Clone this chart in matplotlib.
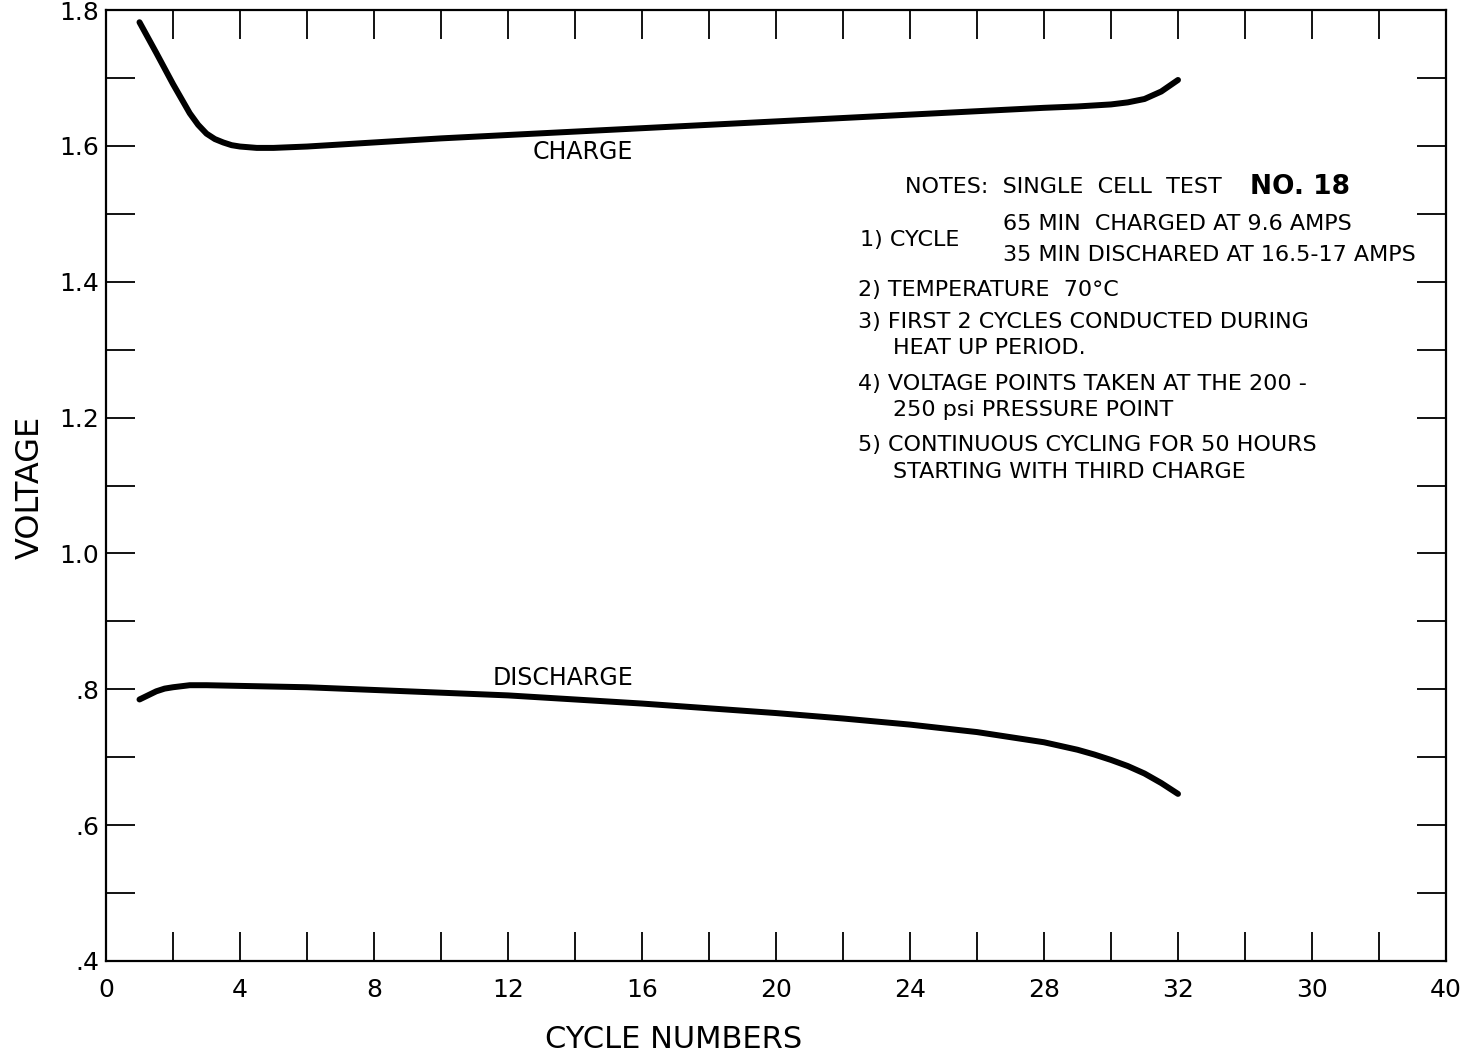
import matplotlib
matplotlib.use("Agg")
import matplotlib.pyplot as plt
import numpy as np

# ---- data ----
charge_cycles = [1, 1.5, 2, 2.5, 2.75, 3, 3.25, 3.5, 3.75, 4, 4.5, 5, 6, 8, 10, 12,
                 14, 16, 18, 20, 22, 24, 26, 28, 29, 30, 30.5, 31, 31.5, 32]
charge_volts = [1.782, 1.737, 1.691, 1.648, 1.631, 1.618, 1.610, 1.605, 1.601, 1.599,
                1.597, 1.597, 1.599, 1.605, 1.611, 1.616, 1.621, 1.626, 1.631, 1.636,
                1.641, 1.646, 1.651, 1.656, 1.658, 1.661, 1.664, 1.669, 1.680, 1.697]

discharge_cycles = [1, 1.25, 1.5, 1.75, 2, 2.5, 3, 4, 6, 8, 10, 12, 14, 16, 18, 20,
                    22, 24, 26, 28, 29, 29.5, 30, 30.5, 31, 31.5, 32]
discharge_volts = [0.785, 0.791, 0.797, 0.801, 0.803, 0.806, 0.806, 0.805, 0.803,
                   0.799, 0.795, 0.791, 0.785, 0.779, 0.772, 0.765, 0.757, 0.748,
                   0.737, 0.722, 0.711, 0.704, 0.696, 0.687, 0.676, 0.662, 0.646]

x_tick_pos = [0, 4, 8, 12, 16, 20, 24, 28, 32, 36, 40]
x_tick_labels = ["0", "4", "8", "12", "16", "20", "24", "28", "32", "30", "40"]
y_tick_pos = [0.4, 0.6, 0.8, 1.0, 1.2, 1.4, 1.6, 1.8]
y_tick_labels = [".4", ".6", ".8", "1.0", "1.2", "1.4", "1.6", "1.8"]

notes = [
    ("1) CYCLE", 22.5, 1.461),
    ("65 MIN  CHARGED AT 9.6 AMPS", 26.78, 1.485),
    ("35 MIN DISCHARED AT 16.5-17 AMPS", 26.78, 1.439),
    ("2) TEMPERATURE  70°C", 22.45, 1.388),
    ("3) FIRST 2 CYCLES CONDUCTED DURING", 22.45, 1.341),
    ("HEAT UP PERIOD.", 23.49, 1.302),
    ("4) VOLTAGE POINTS TAKEN AT THE 200 -", 22.45, 1.249),
    ("250 psi PRESSURE POINT", 23.49, 1.211),
    ("5) CONTINUOUS CYCLING FOR 50 HOURS", 22.45, 1.160),
    ("STARTING WITH THIRD CHARGE", 23.49, 1.120),
]

plt.rcParams['font.family'] = ['DejaVu Sans']

fig = plt.figure(figsize=(14.69, 10.55), dpi=100)
ax = fig.add_axes([106/1469, 1 - 961/1055, (1446-106)/1469, (961-10)/1055])

for xs, ys in ((charge_cycles, charge_volts), (discharge_cycles, discharge_volts)):
    ax.plot(xs, ys, color='black', lw=4.3, solid_capstyle='round',
            solid_joinstyle='round')

ax.set_xlim(0, 40)
ax.set_ylim(0.4, 1.8)

ax.set_xticks(x_tick_pos)
ax.set_xticklabels(x_tick_labels)
ax.set_xticks(np.arange(2, 40, 4), minor=True)
ax.set_yticks(y_tick_pos)
ax.set_yticklabels(y_tick_labels)
ax.set_yticks(np.arange(0.5, 1.8, 0.2), minor=True)

for which in ('major', 'minor'):
    ax.tick_params(axis='both', which=which, direction='in', length=21, width=1.3,
                   top=True, right=True, color='black')
ax.tick_params(axis='x', which='major', labelsize=18, pad=12)
ax.tick_params(axis='y', which='major', labelsize=18, pad=5)

for sp in ax.spines.values():
    sp.set_linewidth(1.6)

ax.set_xlabel("CYCLE NUMBERS", fontsize=22)
ax.xaxis.set_label_coords((674 - 106) / 1340, (961 - 1040) / 951)
ax.xaxis.label.set_va('center')
ax.set_ylabel("VOLTAGE", fontsize=23)
ax.yaxis.set_label_coords((30 - 106) / 1340, (961 - 487) / 951)
ax.yaxis.label.set_va('center')

ax.text(14.24, 1.591, "CHARGE", fontsize=17, ha='center', va='center')
ax.text(13.64, 0.817, "DISCHARGE", fontsize=17, ha='center', va='center')

ax.text(23.85, 1.539, "NOTES:  SINGLE  CELL  TEST", fontsize=16, ha='left', va='center')
ax.text(34.15, 1.539, "NO. 18", fontsize=19, fontweight='bold', ha='left', va='center')
for txt, x, y in notes:
    ax.text(x, y, txt, fontsize=16, ha='left', va='center')

fig.savefig("out.png", dpi=100)
